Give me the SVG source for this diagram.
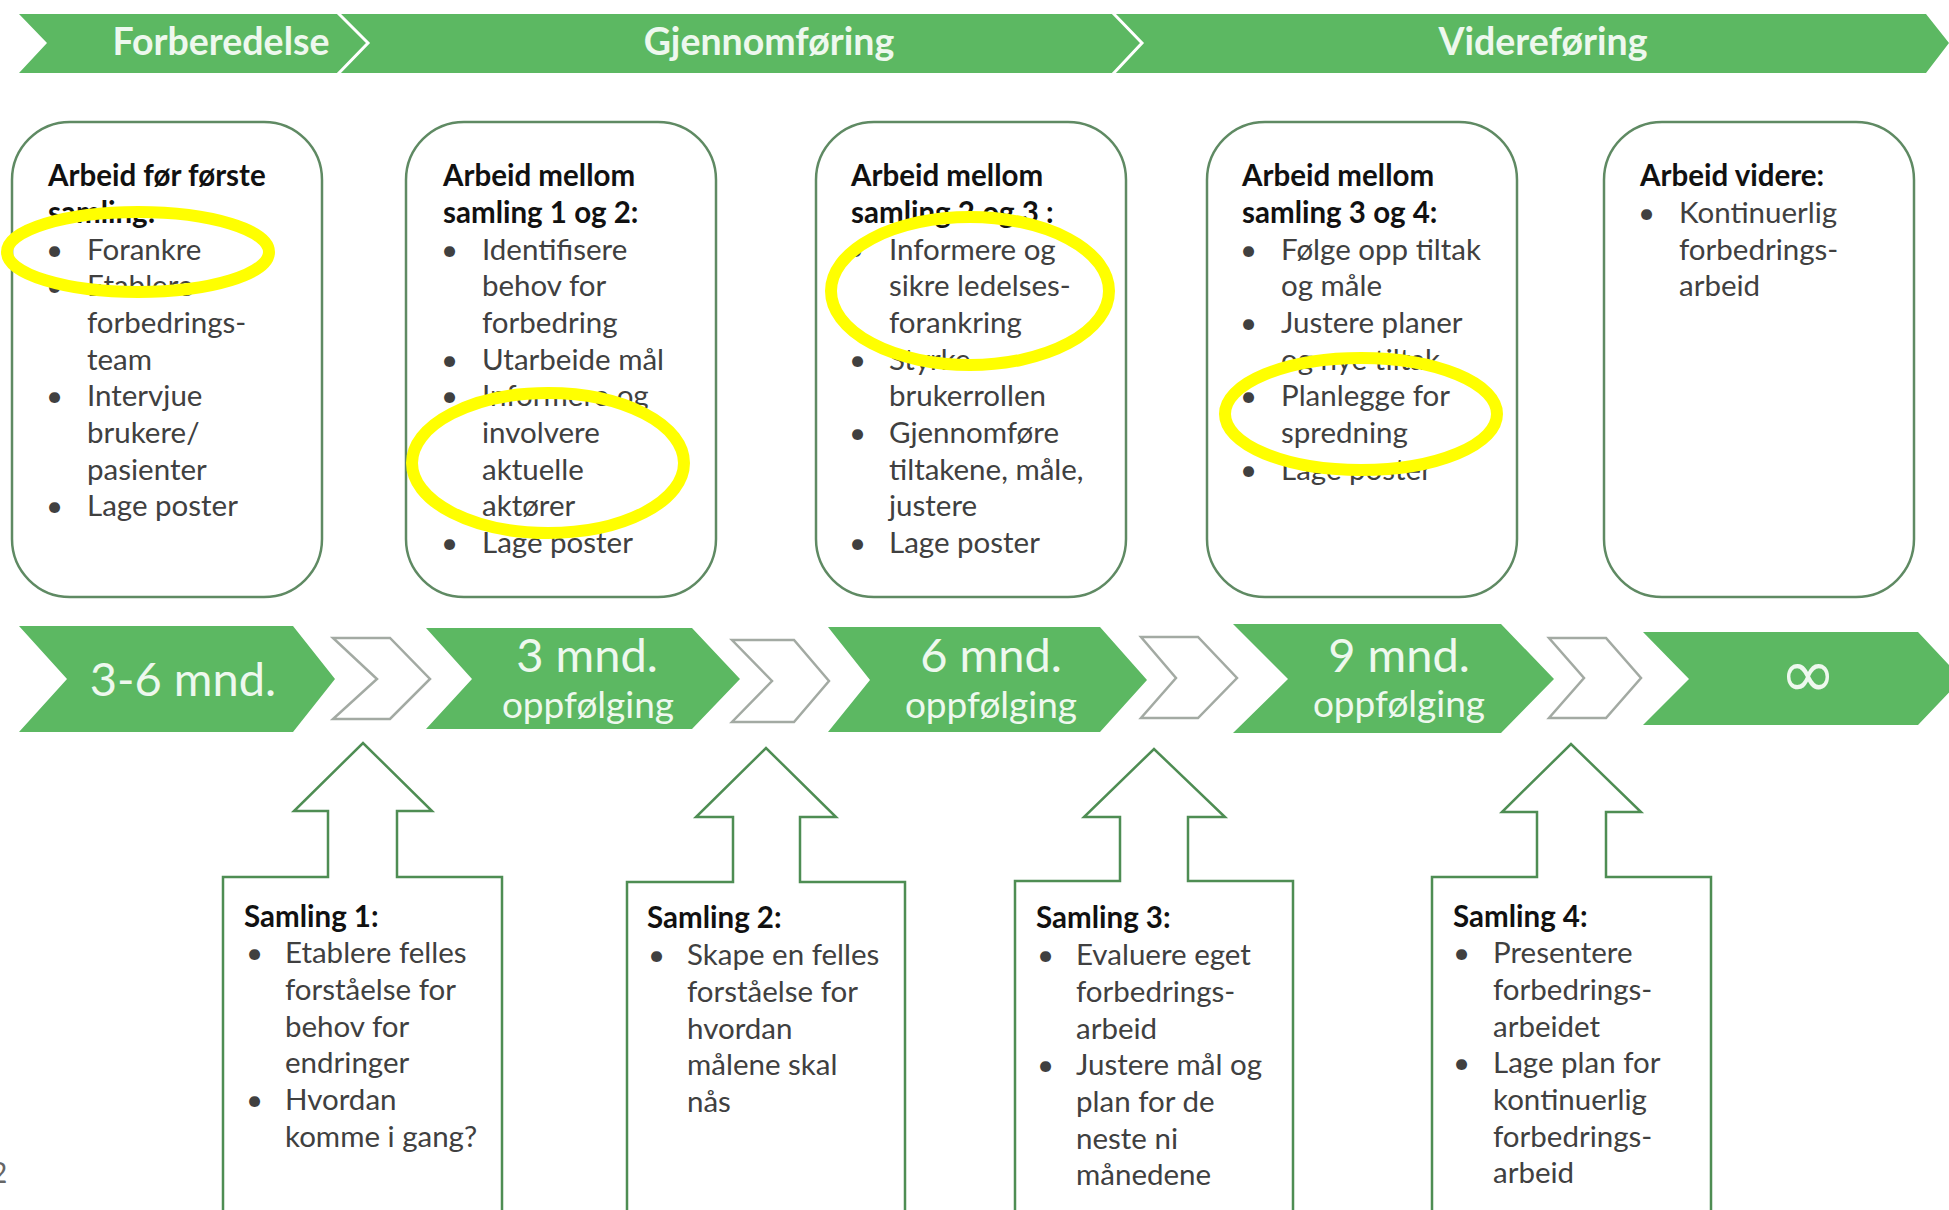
<svg xmlns="http://www.w3.org/2000/svg" width="1949" height="1210" viewBox="0 0 1949 1210">
<style>
.band{fill:#5cb862}
.sep{fill:none;stroke:#ffffff;stroke-width:3}
.phase{font-family:Lato,"Liberation Sans",sans-serif;font-weight:bold;font-size:37.5px;fill:#eef8ee;text-anchor:middle}
.box{fill:#ffffff;stroke:#5f8a63;stroke-width:2.5}
.chev{fill:#5cb862}
.hollow{fill:#ffffff;stroke:#a3aaa3;stroke-width:2.5}
.big{font-family:Lato,"Liberation Sans",sans-serif;font-size:47px;fill:#eef8ee;text-anchor:middle}
.sub{font-family:Lato,"Liberation Sans",sans-serif;font-size:37px;fill:#eef8ee;text-anchor:middle}
.inf{font-family:"DejaVu Sans",sans-serif;font-size:68px;fill:#eef8ee;text-anchor:middle}
.callout{fill:#ffffff;stroke:#4e8d53;stroke-width:2.5}
.t{font-family:Lato,"Liberation Sans",sans-serif;font-size:29.5px;font-weight:bold;fill:#111111}
.b{font-family:Lato,"Liberation Sans",sans-serif;font-size:29.5px;fill:#404040}
.mark{fill:none;stroke:#ffff00;stroke-width:12}
.pg{font-family:Lato,"Liberation Sans",sans-serif;font-size:28px;fill:#666666}
</style>

<g id="phase-banner">
  <polygon class="band" points="19,14 1926,14 1949,43 1926,73 19,73 47,43"/>
  <polyline class="sep" points="337,12 368,43 337,75"/>
  <polyline class="sep" points="1112,12 1142,43 1112,75"/>
  <text class="phase" x="221" y="55">Forberedelse</text>
  <text class="phase" x="769" y="55">Gjennomføring</text>
  <text class="phase" x="1543" y="55">Videreføring</text>
</g>

<g id="work-before-1">
  <rect class="box" x="12" y="122" width="310" height="475" rx="58" ry="58"/>
  <text class="t" x="48" y="186">Arbeid før første</text>
  <text class="t" x="48" y="223">samling:</text>
  <text class="b" x="46" y="259.5">•</text><text class="b" x="87" y="259.5">Forankre</text>
  <text class="b" x="46" y="296">•</text><text class="b" x="87" y="296">Etablere</text>
  <text class="b" x="87" y="333">forbedrings-</text>
  <text class="b" x="87" y="369.5">team</text>
  <text class="b" x="46" y="406">•</text><text class="b" x="87" y="406">Intervjue</text>
  <text class="b" x="87" y="443">brukere/</text>
  <text class="b" x="87" y="479.5">pasienter</text>
  <text class="b" x="46" y="516">•</text><text class="b" x="87" y="516">Lage poster</text>
</g>

<g id="work-1-2">
  <rect class="box" x="406" y="122" width="310" height="475" rx="58" ry="58"/>
  <text class="t" x="443" y="186">Arbeid mellom</text>
  <text class="t" x="443" y="223">samling 1 og 2:</text>
  <text class="b" x="441" y="259.5">•</text><text class="b" x="482" y="259.5">Identifisere</text>
  <text class="b" x="482" y="296">behov for</text>
  <text class="b" x="482" y="333">forbedring</text>
  <text class="b" x="441" y="369.5">•</text><text class="b" x="482" y="369.5">Utarbeide mål</text>
  <text class="b" x="441" y="406">•</text><text class="b" x="482" y="406">Informere og</text>
  <text class="b" x="482" y="443">involvere</text>
  <text class="b" x="482" y="479.5">aktuelle</text>
  <text class="b" x="482" y="516">aktører</text>
  <text class="b" x="441" y="553">•</text><text class="b" x="482" y="553">Lage poster</text>
</g>

<g id="work-2-3">
  <rect class="box" x="816" y="122" width="310" height="475" rx="58" ry="58"/>
  <text class="t" x="851" y="186">Arbeid mellom</text>
  <text class="t" x="851" y="223">samling 2 og 3 :</text>
  <text class="b" x="847" y="259.5">•</text><text class="b" x="889" y="259.5">Informere og</text>
  <text class="b" x="889" y="296">sikre ledelses-</text>
  <text class="b" x="889" y="333">forankring</text>
  <text class="b" x="849" y="369.5">•</text><text class="b" x="889" y="369.5">Styrke</text>
  <text class="b" x="889" y="406">brukerrollen</text>
  <text class="b" x="849" y="443">•</text><text class="b" x="889" y="443">Gjennomføre</text>
  <text class="b" x="889" y="479.5">tiltakene, måle,</text>
  <text class="b" x="889" y="516">justere</text>
  <text class="b" x="849" y="553">•</text><text class="b" x="889" y="553">Lage poster</text>
</g>

<g id="work-3-4">
  <rect class="box" x="1207" y="122" width="310" height="475" rx="58" ry="58"/>
  <text class="t" x="1242" y="186">Arbeid mellom</text>
  <text class="t" x="1242" y="223">samling 3 og 4:</text>
  <text class="b" x="1240" y="259.5">•</text><text class="b" x="1281" y="259.5">Følge opp tiltak</text>
  <text class="b" x="1281" y="296">og måle</text>
  <text class="b" x="1240" y="333">•</text><text class="b" x="1281" y="333">Justere planer</text>
  <text class="b" x="1281" y="369.5">og nye tiltak</text>
  <text class="b" x="1240" y="406">•</text><text class="b" x="1281" y="406">Planlegge for</text>
  <text class="b" x="1281" y="443">spredning</text>
  <text class="b" x="1240" y="479.5">•</text><text class="b" x="1281" y="479.5">Lage poster</text>
</g>

<g id="work-further">
  <rect class="box" x="1604" y="122" width="310" height="475" rx="58" ry="58"/>
  <text class="t" x="1640" y="186">Arbeid videre:</text>
  <text class="b" x="1638" y="223">•</text><text class="b" x="1679" y="223">Kontinuerlig</text>
  <text class="b" x="1679" y="259.5">forbedrings-</text>
  <text class="b" x="1679" y="296">arbeid</text>
</g>

<g id="step-3-6">
  <polygon class="chev" points="19,626 293,626 335,679 293,732 19,732 67,679"/>
  <text class="big" x="183" y="696">3-6 mnd.</text>
</g>
<g id="step-3">
  <polygon class="chev" points="426,628 692,628 740,679 692,729 426,729 472,679"/>
  <text class="big" x="587" y="672">3 mnd.</text>
  <text class="sub" x="588" y="718">oppfølging</text>
</g>
<g id="step-6">
  <polygon class="chev" points="828,627 1100,627 1147,680 1100,732 828,732 870,680"/>
  <text class="big" x="991" y="672">6 mnd.</text>
  <text class="sub" x="991" y="718">oppfølging</text>
</g>
<g id="step-9">
  <polygon class="chev" points="1233,624 1501,624 1554,679 1501,733 1233,733 1288,679"/>
  <text class="big" x="1399" y="672">9 mnd.</text>
  <text class="sub" x="1399" y="717">oppfølging</text>
</g>
<g id="step-inf">
  <polygon class="chev" points="1643,632 1918,632 1962,679 1918,725 1643,725 1689,679"/>
  <text class="inf" x="1808" y="697">∞</text>
</g>

<g id="connectors">
  <polygon class="hollow" points="333,638 390,638 430,679 390,719 333,719 377,679"/>
  <polygon class="hollow" points="732,640 794,640 829,681 794,722 732,722 772,681"/>
  <polygon class="hollow" points="1141,637 1198,637 1237,678 1198,718 1141,718 1176,678"/>
  <polygon class="hollow" points="1549,638 1606,638 1641,678 1606,718 1549,718 1584,678"/>
</g>

<g id="samling-1">
  <polygon class="callout" points="223,1215 223,877 328,877 328,811 294,811 363,743 432,811 397,811 397,877 502,877 502,1215"/>
  <text class="t" x="244" y="927">Samling 1:</text>
  <text class="b" x="246" y="963">•</text><text class="b" x="285" y="963">Etablere felles</text>
  <text class="b" x="285" y="1000">forståelse for</text>
  <text class="b" x="285" y="1037">behov for</text>
  <text class="b" x="285" y="1073">endringer</text>
  <text class="b" x="246" y="1110">•</text><text class="b" x="285" y="1110">Hvordan</text>
  <text class="b" x="285" y="1147">komme i gang?</text>
</g>

<g id="samling-2">
  <polygon class="callout" points="627,1215 627,882 733,882 733,817 696,817 766,748 836,817 800,817 800,882 905,882 905,1215"/>
  <text class="t" x="647" y="928">Samling 2:</text>
  <text class="b" x="648" y="965">•</text><text class="b" x="687" y="965">Skape en felles</text>
  <text class="b" x="687" y="1002">forståelse for</text>
  <text class="b" x="687" y="1039">hvordan</text>
  <text class="b" x="687" y="1075">målene skal</text>
  <text class="b" x="687" y="1112">nås</text>
</g>

<g id="samling-3">
  <polygon class="callout" points="1015,1215 1015,881 1120,881 1120,817 1084,817 1154,749 1225,817 1188,817 1188,881 1293,881 1293,1215"/>
  <text class="t" x="1036" y="928">Samling 3:</text>
  <text class="b" x="1037" y="965">•</text><text class="b" x="1076" y="965">Evaluere eget</text>
  <text class="b" x="1076" y="1002">forbedrings-</text>
  <text class="b" x="1076" y="1039">arbeid</text>
  <text class="b" x="1037" y="1075">•</text><text class="b" x="1076" y="1075">Justere mål og</text>
  <text class="b" x="1076" y="1112">plan for de</text>
  <text class="b" x="1076" y="1149">neste ni</text>
  <text class="b" x="1076" y="1185">månedene</text>
</g>

<g id="samling-4">
  <polygon class="callout" points="1432,1215 1432,877 1537,877 1537,812 1502,812 1571,744 1641,812 1606,812 1606,877 1711,877 1711,1215"/>
  <text class="t" x="1453" y="927">Samling 4:</text>
  <text class="b" x="1453" y="963">•</text><text class="b" x="1493" y="963">Presentere</text>
  <text class="b" x="1493" y="1000">forbedrings-</text>
  <text class="b" x="1493" y="1037">arbeidet</text>
  <text class="b" x="1453" y="1073">•</text><text class="b" x="1493" y="1073">Lage plan for</text>
  <text class="b" x="1493" y="1110">kontinuerlig</text>
  <text class="b" x="1493" y="1147">forbedrings-</text>
  <text class="b" x="1493" y="1183">arbeid</text>
</g>

<g id="highlights">
  <ellipse class="mark" cx="138" cy="252" rx="131" ry="40"/>
  <ellipse class="mark" cx="548" cy="463" rx="136" ry="70"/>
  <ellipse class="mark" cx="970" cy="291" rx="139" ry="74"/>
  <ellipse class="mark" cx="1361" cy="414" rx="136" ry="56"/>
</g>

<text class="pg" x="-9" y="1183">2</text>
</svg>
